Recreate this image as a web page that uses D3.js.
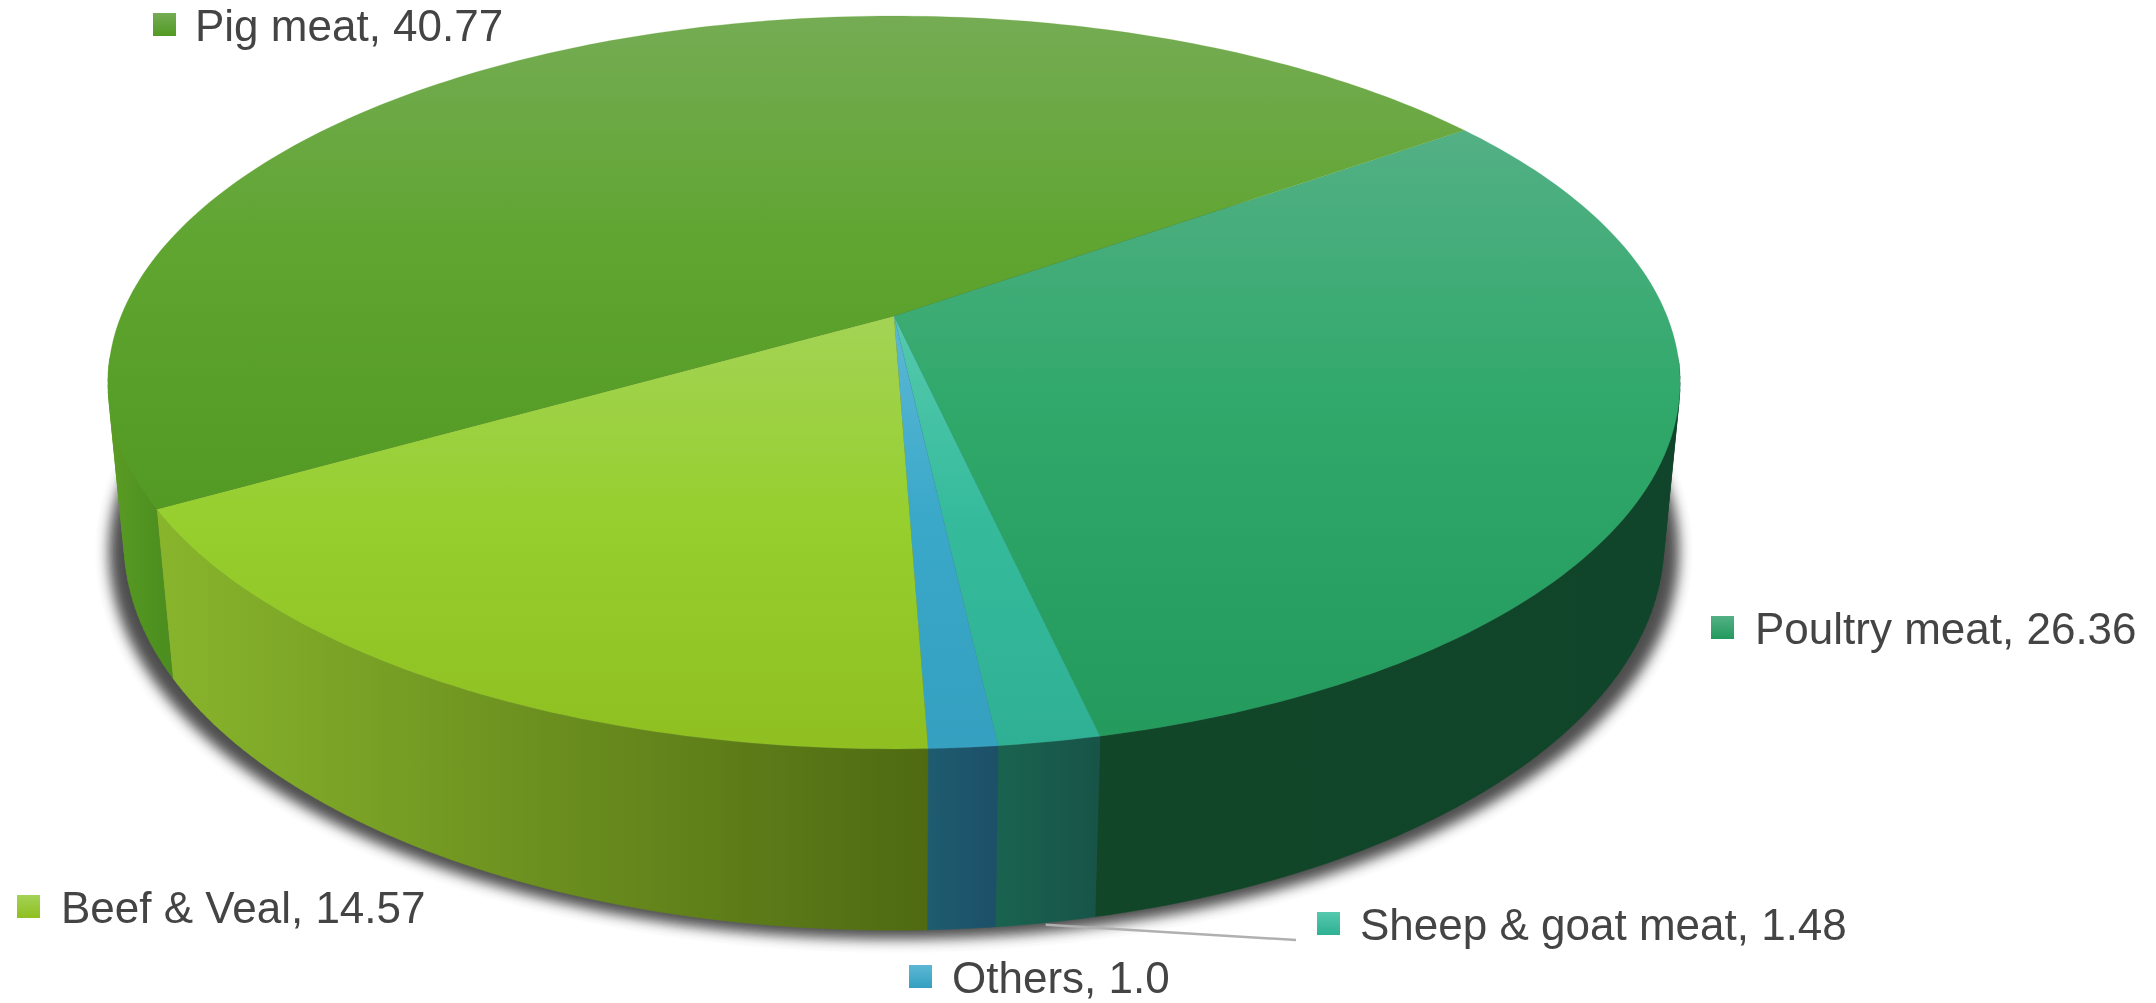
<!DOCTYPE html>
<html>
<head>
<meta charset="utf-8">
<style>
html,body{margin:0;padding:0;background:#fff;}
svg{display:block;filter:blur(0.55px);}
text{font-family:"Liberation Sans",Arial,sans-serif;font-size:44px;fill:#444;}
</style>
<script src="https://cdn.jsdelivr.net/npm/d3@7/dist/d3.min.js"></script>
</head>
<body>
<svg id="chart" width="2156" height="1003"></svg>
<script>
const categories  = ["Poultry meat","Sheep & goat meat","Others","Beef & Veal","Pig meat"];
const values      = [26.36,1.48,1.0,14.57,40.77];
const valueLabels = ["26.36","1.48","1.0","14.57","40.77"];
const topLight    = ["#53b085","#55c9ad","#5cb8d5","#a3d355","#75ac54"];
const topMid      = ["#2fa86a","#35bb9c","#3aa8c9","#96cf2e","#5fa530"];
const topDark     = ["#249a5d","#2fb094","#35a0c0","#8fbf20","#529a24"];
const sideFrom    = ["#114628","#1a6350","#1e5c70","#88b52c","#5a9c24"];
const sideTo      = ["#11452b","#175448","#1c5068","#4f6a12","#4a8c1e"];
const legendX     = [1711,1317,909,17,153];
const legendTextX = [1755,1360,952,61,195];
const legendBase  = [644,940,993,923,41];
const deg = Math.PI/180;
const cx=894, cy=316, a=773, b=354.4, k=0.1814, m=0.0204, H=161;
const startAngle = -35.4*deg;

const project = (t,low,r=1) => {
  const s=Math.sin(t)*r, c=Math.cos(t)*r, w=1-k*s+(low?m:0);
  return [cx+a*c/w, cy+(b*s+(low?H:0))/w];
};
const tuck = t => 1-0.01*Math.max(0,Math.min(1,(0.12-Math.sin(t))/0.12));
const arcs = d3.pie().sort(null).value(d=>d).startAngle(startAngle).endAngle(startAngle+2*Math.PI)(values);
const svg = d3.select("#chart");
const defs = svg.append("defs");
const f = defs.append("filter").attr("id","sh").attr("x","-10%").attr("y","-10%").attr("width","120%").attr("height","120%");
f.append("feGaussianBlur").attr("stdDeviation",6.5);
const line = d3.line();
const samples = (t0,t1) => { const n=Math.max(2,Math.ceil((t1-t0)/deg)); return d3.range(n+1).map(i=>t0+(t1-t0)*i/n); };

// shadow
const ring = samples(0,2*Math.PI).map(t=>{const p=project(t,true);return [cx+(p[0]-cx)*1.02, p[1]+9];});
svg.append("path").attr("d",line(ring)+"Z").attr("fill","#444").attr("opacity",0.95).attr("filter","url(#sh)");

// gradients
arcs.forEach((d,i)=>{
  const g=defs.append("linearGradient").attr("id","top"+i).attr("x1",0).attr("x2",0).attr("y1",0).attr("y2",1);
  g.append("stop").attr("offset",0).attr("stop-color",topLight[i]);
  g.append("stop").attr("offset",0.47).attr("stop-color",topMid[i]);
  g.append("stop").attr("offset",1).attr("stop-color",topDark[i]);
  const ts=samples(d.startAngle,d.endAngle).filter(t=>Math.sin(t)>-0.2);
  const xs=ts.flatMap(t=>[project(t,false)[0],project(t,true)[0]]);
  const s=defs.append("linearGradient").attr("id","side"+i).attr("gradientUnits","userSpaceOnUse")
    .attr("x1",d3.min(xs)).attr("x2",d3.max(xs)).attr("y1",0).attr("y2",0);
  s.append("stop").attr("offset",0).attr("stop-color",sideFrom[i]);
  s.append("stop").attr("offset",1).attr("stop-color",sideTo[i]);
});

// side walls: one path per slice, every quad wound the same way so there are no seams
arcs.forEach((d,i)=>{
  const ts=samples(d.startAngle,d.endAngle);
  const quads=d3.pairs(ts).filter(([u,v])=>Math.sin(u)>-0.05||Math.sin(v)>-0.05).map(([u,v])=>{
    const q=[project(u,false,tuck(u)),project(v,false,tuck(v)),project(v,true),project(u,true)];
    return d3.polygonArea(q)<0?q.reverse():q;
  });
  svg.append("path").attr("d",quads.map(q=>line(q)+"Z").join(""))
    .attr("fill",`url(#side${i})`).attr("stroke",`url(#side${i})`).attr("stroke-width",0.4);
});

// top face
arcs.forEach((d,i)=>{
  const pts=[[cx,cy],...samples(d.startAngle,d.endAngle).map(t=>project(t,false))];
  svg.append("path").attr("d",line(pts)+"Z").attr("fill",`url(#top${i})`).attr("stroke",topMid[i]).attr("stroke-width",0.5).attr("stroke-opacity",0.4);
});

// leader line for the small slice
const leaderStart = project(arcs[1].startAngle+(arcs[1].endAngle-arcs[1].startAngle)*0.5,true);
svg.append("path").attr("d",line([[leaderStart[0],leaderStart[1]+2],[1296,940]]))
  .attr("fill","none").attr("stroke","#b0b0b0").attr("stroke-width",2.5);

// legend labels
categories.forEach((c,i)=>{
  const g=defs.append("linearGradient").attr("id","mk"+i).attr("x1",0).attr("x2",0).attr("y1",0).attr("y2",1);
  g.append("stop").attr("offset",0).attr("stop-color",topLight[i]);
  g.append("stop").attr("offset",1).attr("stop-color",topDark[i]);
  svg.append("rect").attr("x",legendX[i]).attr("y",legendBase[i]-28).attr("width",23).attr("height",23).attr("fill",`url(#mk${i})`);
  svg.append("text").attr("x",legendTextX[i]).attr("y",legendBase[i]).text(`${c}, ${valueLabels[i]}`);
});
</script>
</body>
</html>
